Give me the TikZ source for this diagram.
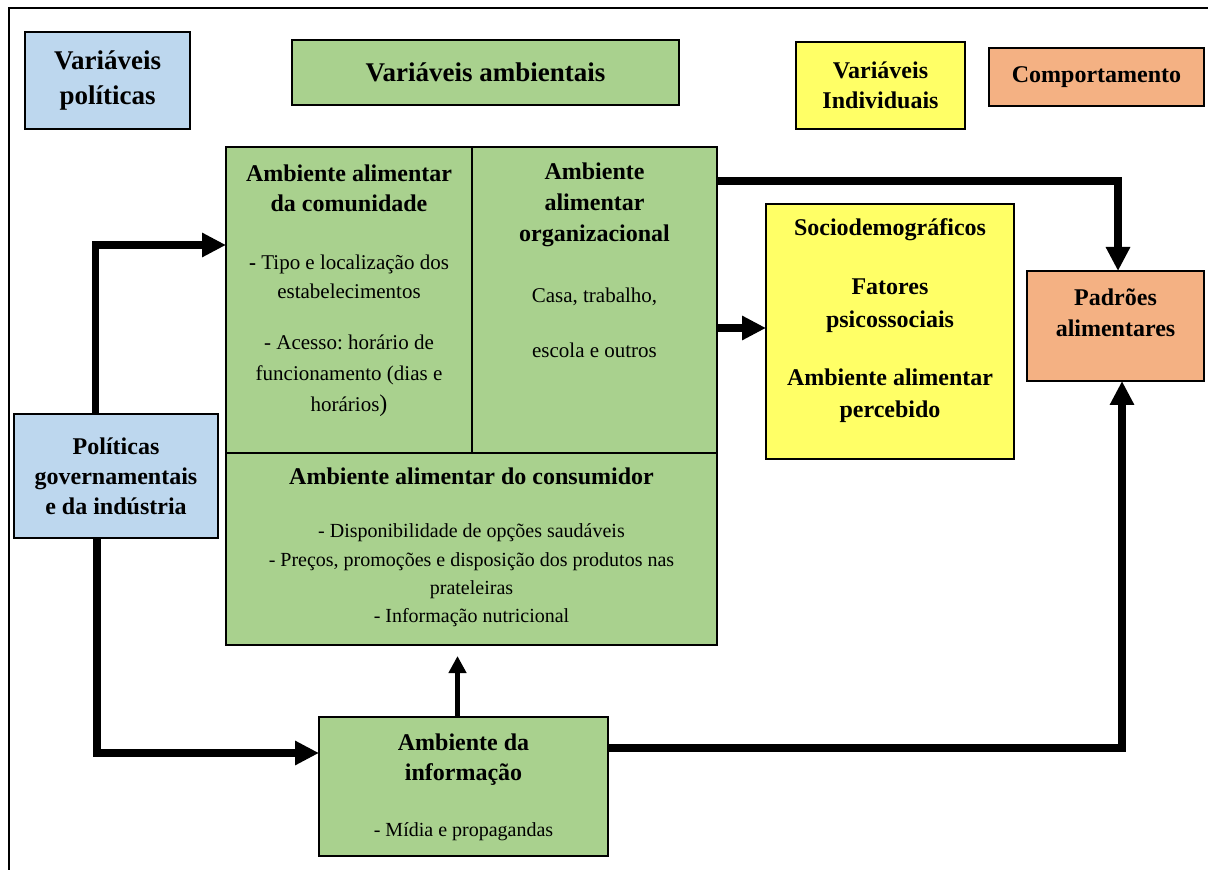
\documentclass[tikz,border=0pt]{standalone}
\usepackage{fontspec}
\setmainfont{Liberation Serif}
\usetikzlibrary{arrows.meta,calc}
\definecolor{polblue}{HTML}{BDD7EE}
\definecolor{envgreen}{HTML}{A9D18E}
\definecolor{indyellow}{HTML}{FFFF66}
\definecolor{behorange}{HTML}{F4B183}
\newcommand{\titlefont}{\fontsize{13.5}{17.5}\selectfont\bfseries}
\newcommand{\headfont}{\fontsize{12}{15}\selectfont\bfseries}
\newcommand{\bodyfont}{\fontsize{10.5}{14.5}\selectfont}
\frenchspacing
\tikzset{
    plainbox/.style = {rectangle,
                    draw=black,
                    line width=1.2pt,
                    inner sep=0pt,
                    outer sep=0pt},
    polbox/.style = {plainbox,
                    fill=polblue},
    envbox/.style = {plainbox,
                    fill=envgreen},
    indbox/.style = {plainbox,
                    fill=indyellow},
    behbox/.style = {plainbox,
                    fill=behorange},
    -,
    title/.style =  {align=center,
                    font=\titlefont,
                    inner sep=0pt},
    head/.style =   {align=center,
                    font=\headfont,
                    inner sep=0pt},
    body/.style =   {align=center,
                    font=\bodyfont,
                    inner sep=0pt},
    -,
    flow/.style =   {line width=3.75pt,
                    -{Triangle[length=12pt,width=11.5pt]}},
    thinflow/.style = {line width=2.7pt,
                    -{Triangle[length=8.5pt,width=8.5pt]}}}

\begin{document}
\begin{tikzpicture}[x=0.5pt,y=-0.5pt]
                \useasboundingbox (0,0) rectangle (1208,870);
                \draw [line width=1pt] (9,870) -- (9,8) -- (1208,8);

                % legenda
                \node[polbox,title,minimum width=82.5pt,minimum height=48.5pt]   (vp)   at (107.5,80.5)  {Variáveis\\políticas};
                \node[envbox,title,minimum width=193.5pt,minimum height=32.5pt]  (va)   at (485.5,72.5)  {Variáveis ambientais};
                \node[indbox,head,minimum width=84.5pt,minimum height=43.5pt]    (vi)   at (880.5,85.5)  {Variáveis\\Individuais};
                \node[behbox,head,minimum width=107.5pt,minimum height=29pt]     (comp) at (1096.5,77)   {Comportamento};

                % caixas
                \node[envbox,minimum width=123pt,minimum height=153pt]           (com)  at (349,300)     {};
                \node[envbox,minimum width=122.5pt,minimum height=153pt]         (org)  at (594.5,300)   {};
                \node[envbox,minimum width=245.5pt,minimum height=96pt]          (cons) at (471.5,549)   {};
                \node[polbox,head,minimum width=102pt,minimum height=62pt]       (pol)  at (116,476)     {Políticas\\governamentais\\e da indústria};
                \node[envbox,minimum width=144.5pt,minimum height=69.5pt]        (info) at (463.5,786.5) {};
                \node[indbox,minimum width=124pt,minimum height=127.5pt]         (ind)  at (890,331.5)   {};
                \node[behbox,minimum width=88.5pt,minimum height=55pt]           (pad)  at (1115.5,326)  {};

                % textos
                \node[head]                                        (comH)  at (349,188.5)   {Ambiente alimentar\\da comunidade};
                \node[body]                                        (comB)  at (349,276.5)   {{\bfseries -} Tipo e localização dos\\estabelecimentos};
                \node[body,font=\fontsize{10.5}{15.5}\selectfont]  (comC)  at (349,375.5)   {- Acesso: horário de\\funcionamento (dias e\\horários{\large)}};
                \node[head,font=\fontsize{12}{15.5}\selectfont\bfseries] (orgH) at (594.5,205) {Ambiente\\alimentar\\organizacional};
                \node[body]                                        (orgB)  at (594.5,322.5) {Casa, trabalho,\\[13pt]escola e outros};
                \node[head]                                        (consH) at (471.5,476)   {Ambiente alimentar do consumidor};
                \node[body,font=\fontsize{10}{14.2}\selectfont]    (consB) at (471.5,575.5) {- Disponibilidade de opções saudáveis\\- Preços, promoções e disposição dos produtos nas\\prateleiras\\- Informação nutricional};
                \node[head]                                        (infoH) at (463.5,760)   {Ambiente da\\informação};
                \node[body,font=\fontsize{10}{12}\selectfont]      (infoB) at (463.5,832)   {- Mídia e propagandas};
                \node[head]                                        (indS)  at (890,230)     {Sociodemográficos};
                \node[head,font=\fontsize{12}{16.5}\selectfont\bfseries] (indF) at (890,305.5) {Fatores\\psicossociais};
                \node[head,font=\fontsize{12}{16}\selectfont\bfseries]   (indA) at (890,396)   {Ambiente alimentar\\percebido};
                \node[head,font=\fontsize{12}{15.5}\selectfont\bfseries] (padT) at (1115.5,312.5) {Padrões\\alimentares};

                % setas
                \coordinate (orgMid)  at ([yshift=-14pt]org.east);
                \coordinate (infoTop) at ([xshift=-3pt]info.north);
                \draw [flow]  ([xshift=-10.25pt]pol.north) |- ([yshift=27.5pt]com.west);
                \draw [flow]  ([xshift=-9.5pt]pol.south) |- ([yshift=16.75pt]info.west);
                \draw [thinflow,shorten >=5.5pt] (infoTop) -- (infoTop |- cons.south);
                \draw [flow]  ([yshift=59.5pt]org.east) -| ([xshift=1.25pt]pad.north);
                \draw [flow,line width=4.25pt] (orgMid) -- (orgMid -| ind.west);
                \draw [flow]  ([yshift=19.25pt]info.east) -| ([xshift=3.25pt]pad.south);
\end{tikzpicture}
\end{document}
